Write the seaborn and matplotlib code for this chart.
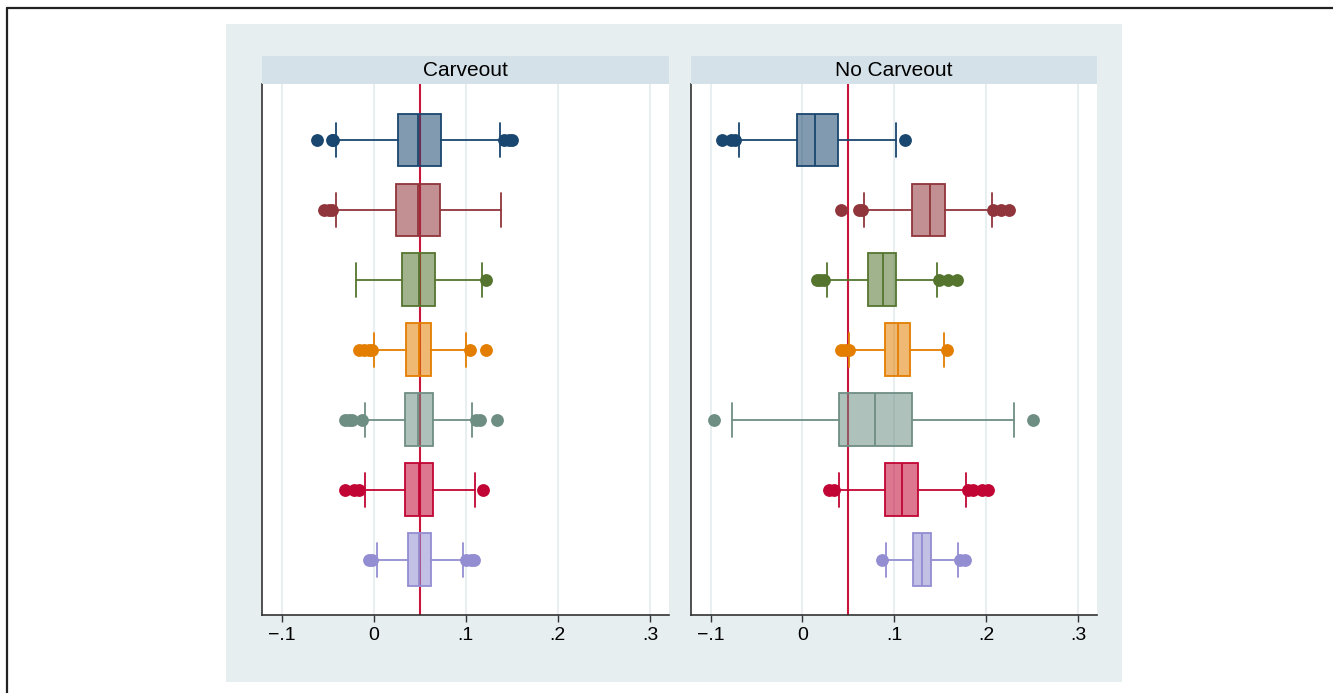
import matplotlib
matplotlib.use("Agg")
import matplotlib.pyplot as plt
import seaborn as sns
from matplotlib.lines import Line2D
from matplotlib.patches import Rectangle
from matplotlib.colors import to_rgba

# ---------------- data ----------------
panels = ["Carveout", "No Carveout"]
series_colors = ["#1a476f", "#90353b", "#55752f", "#e37e00", "#6e8e84", "#c10534", "#938dd2"]

xticks = [-0.1, 0.0, 0.1, 0.2, 0.3]
xticklabels = ["\u2212.1", "0", ".1", ".2", ".3"]
ref_line = 0.05

# Carveout panel
c_whislo = [-0.0413, -0.0413, -0.0188, 0.0007, -0.0098, -0.0098, 0.0033]
c_q1 = [0.0265, 0.0246, 0.0312, 0.0355, 0.0340, 0.0340, 0.0370]
c_med = [0.0486, 0.0482, 0.0496, 0.0493, 0.0486, 0.0493, 0.0493]
c_q3 = [0.0732, 0.0717, 0.0663, 0.0623, 0.0649, 0.0649, 0.0623]
c_whishi = [0.1370, 0.1384, 0.1180, 0.1004, 0.1065, 0.1101, 0.0975]
c_fliers = [
    [-0.062, -0.0457, -0.044, 0.1417, 0.1464, 0.1507],
    [-0.0536, -0.0486, -0.0449],
    [0.1225],
    [-0.016, -0.0105, -0.0051, -0.0014, 0.105, 0.1217],
    [-0.0315, -0.0268, -0.0232, -0.0123, 0.1116, 0.1152, 0.1337],
    [-0.0315, -0.0214, -0.016, 0.1192],
    [-0.0051, -0.0014, 0.100, 0.1054, 0.1094],
]

# No Carveout panel
n_whislo = [-0.0692, 0.0670, 0.0272, 0.0511, -0.0772, 0.0395, 0.0913]
n_q1 = [-0.0058, 0.1196, 0.0710, 0.0899, 0.0395, 0.0902, 0.1203]
n_med = [0.0141, 0.1384, 0.0873, 0.1036, 0.0786, 0.1083, 0.1304]
n_q3 = [0.0388, 0.1554, 0.1018, 0.1167, 0.1196, 0.1261, 0.1402]
n_whishi = [0.1022, 0.2062, 0.1460, 0.1543, 0.2304, 0.1783, 0.1699]
n_fliers = [
    [-0.0873, -0.0775, -0.0739, 0.1112],
    [0.042, 0.0612, 0.0649, 0.208, 0.216, 0.2254],
    [0.016, 0.0196, 0.0232, 0.1482, 0.159, 0.1681],
    [0.0424, 0.0467, 0.0504, 0.1572],
    [-0.0964, 0.2514],
    [0.0286, 0.034, 0.1808, 0.1862, 0.1953, 0.2025],
    [0.0866, 0.1717, 0.1772],
]

panel_stats = {
    "Carveout": (c_whislo, c_q1, c_med, c_q3, c_whishi, c_fliers),
    "No Carveout": (n_whislo, n_q1, n_med, n_q3, n_whishi, n_fliers),
}

# ---------------- styling ----------------
sns.set_theme(style="white")
plt.rcParams["font.family"] = ["Liberation Sans", "DejaVu Sans"]

W, H = 1333, 693
fig = plt.figure(figsize=(W / 100, H / 100), dpi=100, facecolor="white")

bg_color = "#e6eef0"
strip_color = "#d4e1e8"
grid_color = "#e3ecee"
line_color = "#c8163a"

# outer graph region background
fig.add_artist(Rectangle((226 / W, 1 - 682 / H), 896 / W, 658 / H,
                         transform=fig.transFigure, facecolor=bg_color,
                         edgecolor="none", zorder=0))
# thin border lines at top and left of the image
fig.add_artist(Line2D([6.5 / W, 1.0], [1 - 7.5 / H] * 2, transform=fig.transFigure,
                      color="#222222", lw=1.6))
fig.add_artist(Line2D([6.5 / W] * 2, [0.0, 1 - 7.5 / H], transform=fig.transFigure,
                      color="#222222", lw=1.6))

axes_px = [(262, 407), (691, 406)]
ax_top, ax_bot = 84, 615
strip_h = 28

for (left_px, width_px), name in zip(axes_px, panels):
    ax = fig.add_axes([left_px / W, 1 - ax_bot / H, width_px / W, (ax_bot - ax_top) / H])
    ax.set_facecolor("white")
    whislo, q1, med, q3, whishi, fliers = panel_stats[name]
    for i, col in enumerate(series_colors):
        st = [dict(whislo=whislo[i], q1=q1[i], med=med[i], q3=q3[i],
                   whishi=whishi[i], fliers=fliers[i])]
        ax.bxp(st, positions=[i], widths=0.757, capwidths=0.49, vert=False,
               patch_artist=True, showfliers=True,
               boxprops=dict(facecolor=to_rgba(col, 0.55), edgecolor=col, lw=1.3),
               medianprops=dict(color=col, lw=1.3),
               whiskerprops=dict(color=col, lw=1.3),
               capprops=dict(color=col, lw=1.3),
               flierprops=dict(marker="o", markersize=8.2, markerfacecolor=col,
                               markeredgecolor=col, linestyle="none"),
               zorder=3)
    ax.axvline(ref_line, color=line_color, lw=1.5, zorder=2.5)
    for t in xticks:
        ax.axvline(t, color=grid_color, lw=1.2, zorder=0.5)
    ax.set_xlim(-0.1213, 0.3207)
    ax.set_ylim(6.786, -0.8)
    ax.set_yticks([])
    ax.set_xticks(xticks)
    ax.set_xticklabels(xticklabels, fontsize=14)
    ax.tick_params(axis="x", direction="out", length=5, width=1, color="#333333",
                   pad=4, labelcolor="black", bottom=True)
    ax.grid(False)
    for s in ["top", "right"]:
        ax.spines[s].set_visible(False)
    for s in ["left", "bottom"]:
        ax.spines[s].set_color("#333333")
        ax.spines[s].set_linewidth(1.2)

    sax = fig.add_axes([left_px / W, 1 - ax_top / H, width_px / W, strip_h / H])
    sax.set_facecolor(strip_color)
    sax.set_xticks([])
    sax.set_yticks([])
    for s in sax.spines.values():
        s.set_visible(False)
    sax.text(0.5, 0.47, name, ha="center", va="center", fontsize=15, color="black",
             transform=sax.transAxes)

fig.savefig("out.png", dpi=100, facecolor="white")
